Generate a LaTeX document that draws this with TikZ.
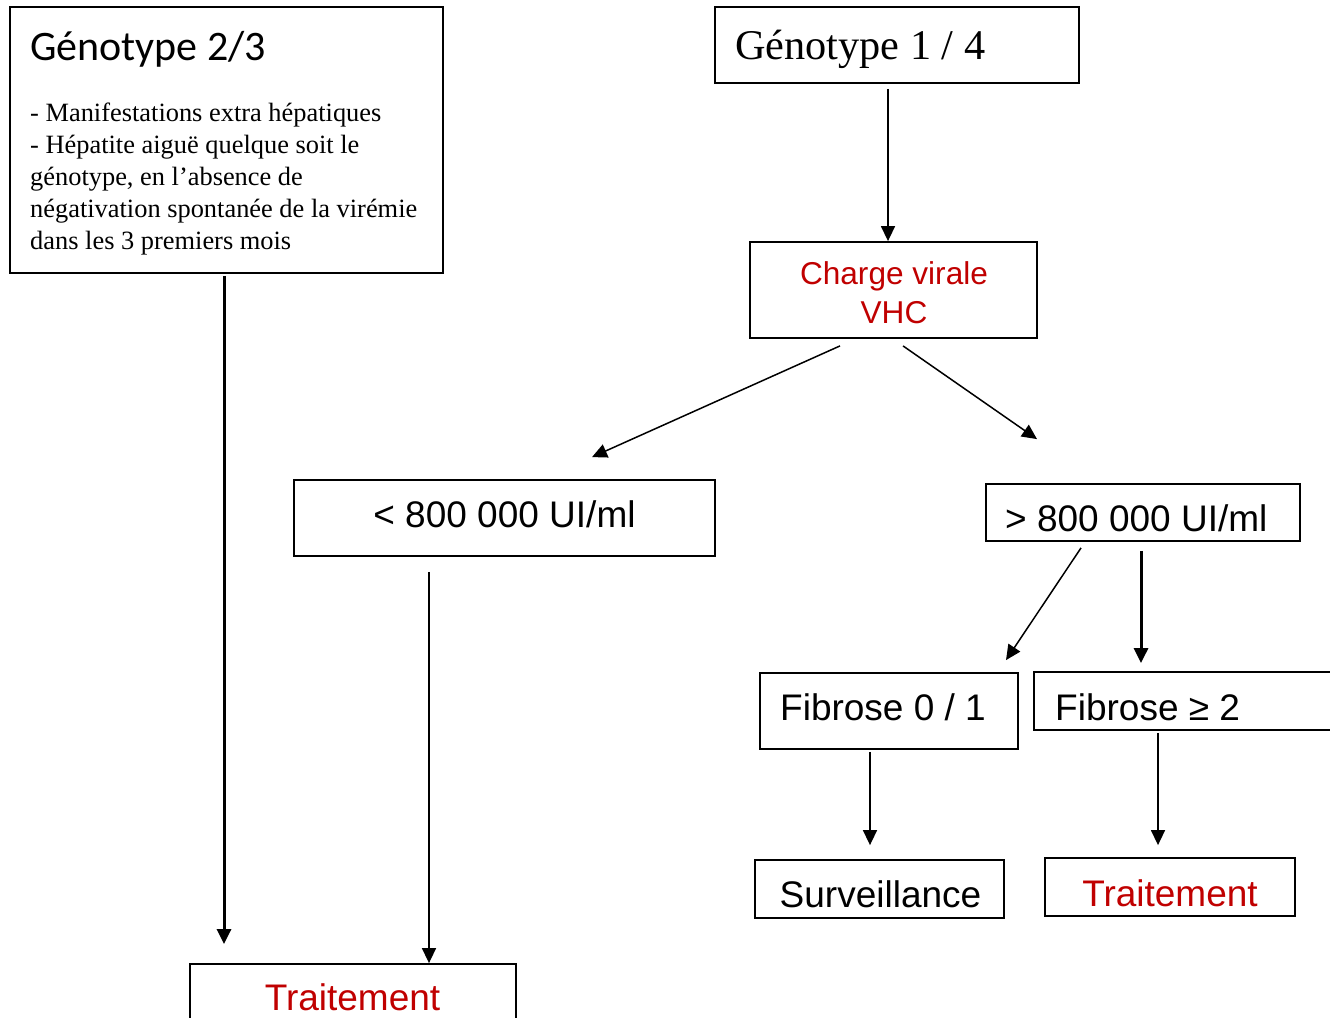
\documentclass[tikz,border=0pt]{standalone}
\usepackage{fontspec}
\setmainfont{Liberation Serif}
\newfontfamily\arialfont{Liberation Sans}
\newfontfamily\calibrifont{Carlito}
\usetikzlibrary{arrows.meta,calc}
\definecolor{darkred}{HTML}{C00000}
\begin{document}
\begin{tikzpicture}[x=1pt,y=-1pt,
  box/.style={draw=black,line width=1.8pt,rectangle,inner sep=0pt},
  arr/.style={line width=1.5pt,-{Triangle[length=15pt,width=14pt]}},
  arrthick/.style={line width=3pt,-{Triangle[length=15pt,width=14pt]}},
  lbl/.style={inner sep=0pt,anchor=base west},
  sans/.style={font=\arialfont\fontsize{37}{44}\selectfont},
  body/.style={lbl,font=\fontsize{26.4}{32}\selectfont},
]
\useasboundingbox (0,0) rectangle (1330,1017);

% boxes
\node[box,minimum width=433pt,minimum height=266pt] (g23) at (226.5,140) {};
\node[box,minimum width=364pt,minimum height=76pt] (g14) at (897,45) {};
\node[box,minimum width=287pt,minimum height=96pt] (cv) at (893.5,290) {};
\node[box,minimum width=421pt,minimum height=76pt] (lt) at (504.5,518) {};
\node[box,minimum width=314pt,minimum height=57pt] (gt) at (1143,512.5) {};
\node[box,minimum width=258pt,minimum height=76pt] (f01) at (889,711) {};
\node[box,minimum width=311pt,minimum height=58pt] (f2) at (1189.5,701) {};
\node[box,minimum width=249pt,minimum height=58pt] (sv) at (879.5,889) {};
\node[box,minimum width=250pt,minimum height=58pt] (t2) at (1170,887) {};
\node[box,minimum width=326pt,minimum height=66pt] (t1) at (353,997) {};

% texts
\node[lbl,font=\calibrifont\fontsize{42}{50}\selectfont] (g23-title) at (30,60) {Génotype 2/3};
\node[body] (g23-l1) at (30,121) {- Manifestations extra hépatiques};
\node[body] (g23-l2) at (30,153) {- Hépatite aiguë quelque soit le};
\node[body] (g23-l3) at (30,185) {génotype, en l’absence de};
\node[body] (g23-l4) at (30,217) {négativation spontanée de la virémie};
\node[body] (g23-l5) at (30,249) {dans les 3 premiers mois};
\node[lbl,font=\fontsize{42.3}{50}\selectfont] (g14-t) at (735,59) {Génotype 1 / 4};
\node[inner sep=0pt,anchor=base,text=darkred,font=\arialfont\fontsize{31.6}{38}\selectfont] (cv-t1) at (894,284) {Charge virale};
\node[inner sep=0pt,anchor=base,text=darkred,font=\arialfont\fontsize{31.6}{38}\selectfont] (cv-t2) at (894,323) {VHC};
\node[inner sep=0pt,anchor=base,sans] (lt-t) at (504.5,527) {< 800 000 UI/ml};
\node[lbl,sans] (gt-t) at (1005,531) {> 800 000 UI/ml};
\node[lbl,sans] (f01-t) at (780,720) {Fibrose 0 / 1};
\node[lbl,sans] (f2-t) at (1055,720) {Fibrose ≥ 2};
\node[inner sep=0pt,anchor=base,sans] (sv-t) at (880.5,907) {Surveillance};
\node[inner sep=0pt,anchor=base,sans,text=darkred] (t2-t) at (1170,906) {Traitement};
\node[inner sep=0pt,anchor=base,sans,text=darkred] (t1-t) at (352.5,1010) {Traitement};

% connectors
\draw[arrthick] ($(g23.south)+(-2.5,2)$) -- ($(t1.north)+(-129,-19)$);
\draw[arr] ($(g14.south)+(-9,5)$) -- ($(cv.north)+(-5.5,0)$);
\draw[arr] ($(cv.south)+(-53.5,7)$) -- ($(lt.north)+(87.5,-22)$);
\draw[arr] ($(cv.south)+(9.5,7)$) -- ($(gt.north)+(-106,-44)$);
\draw[arr] ($(lt.south)+(-75.5,15)$) -- ($(t1.north)+(76,0)$);
\draw[arr] ($(gt.south)+(-62,6)$) -- ($(f01.north)+(117,-12)$);
\draw[arrthick] ($(gt.south)+(-2,9)$) -- ($(f2.north)+(-48.5,-8)$);
\draw[arr] ($(f01.south)+(-19,2)$) -- ($(sv.north)+(-9.5,-14)$);
\draw[arr] ($(f2.south)+(-31.5,2)$) -- ($(t2.north)+(-12,-12)$);
\end{tikzpicture}
\end{document}
